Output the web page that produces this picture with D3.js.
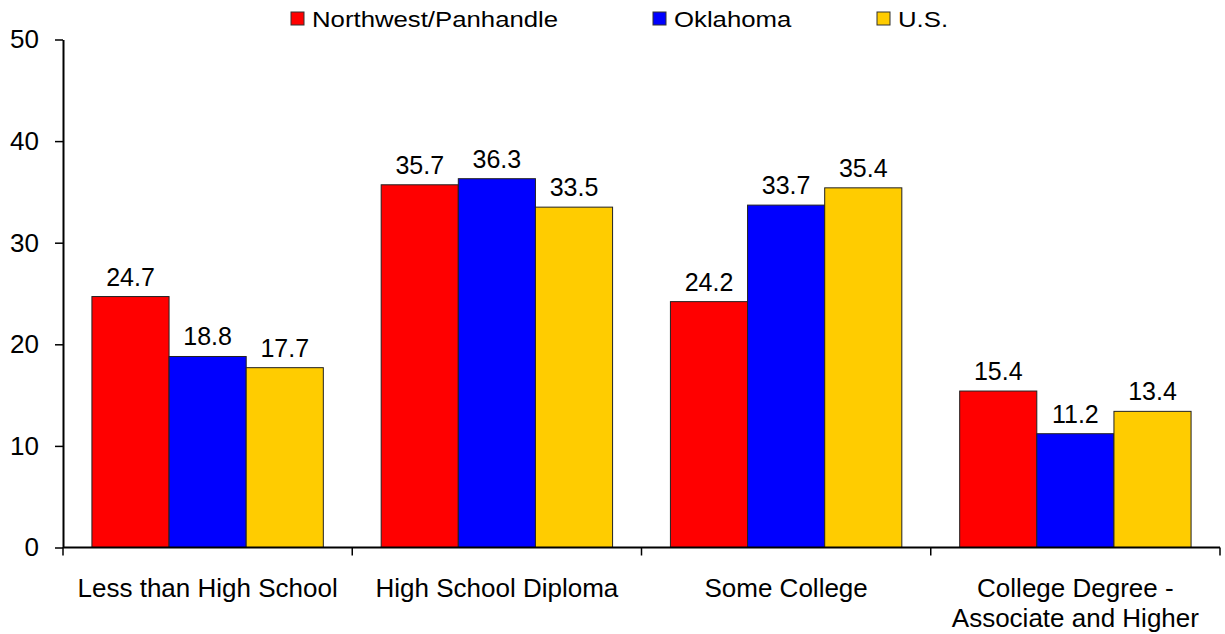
<!DOCTYPE html>
<html>
<head>
<meta charset="UTF-8">
<title>Educational Attainment</title>
<script src="https://cdnjs.cloudflare.com/ajax/libs/d3/7.9.0/d3.min.js"></script>
<style>
    body { margin: 0; background: #fff; }
    svg { display: block; font-family: "Liberation Sans", Arial, sans-serif; }
</style>
</head>
<body>
<div id="chart"></div>
<script>
    // data
    const categories = ["Less than High School", "High School Diploma", "Some College", "College Degree - Associate and Higher"];
    const categoryLines = [["Less than High School"], ["High School Diploma"], ["Some College"], ["College Degree -", "Associate and Higher"]];
    const seriesNames = ["Northwest/Panhandle", "Oklahoma", "U.S."];
    const northwest = [24.7, 35.7, 24.2, 15.4];
    const oklahoma = [18.8, 36.3, 33.7, 11.2];
    const us = [17.7, 33.5, 35.4, 13.4];
    const yTicks = [0, 10, 20, 30, 40, 50];

    const colors = ["#ff0000", "#0000ff", "#ffcc00"];
    const seriesValues = [northwest, oklahoma, us];

    const W = 1225, H = 634;
    const plotLeft = 63, plotRight = 1220, plotTop = 39.5, plotBottom = 547.5;

    const svg = d3.select("#chart").append("svg")
        .attr("width", W)
        .attr("height", H);

    // scales
    const x0 = d3.scaleBand().domain(categories).range([plotLeft, plotRight]).padding(0);
    const bw = x0.bandwidth();
    const x1 = d3.scaleBand().domain(seriesNames).range([bw * 0.1, bw * 0.9]).padding(0);
    const y = d3.scaleLinear().domain([0, 50]).range([plotBottom, plotTop]);

    // bars
    const groups = svg.append("g").selectAll("g")
        .data(categories)
        .join("g")
        .attr("transform", d => `translate(${x0(d)},0)`);

    const barData = (c, i) => seriesNames.map((s, k) => ({ s, k, v: seriesValues[k][i] }));

    groups.selectAll("rect")
        .data(barData)
        .join("rect")
        .attr("x", d => x1(d.s))
        .attr("y", d => y(d.v))
        .attr("width", x1.bandwidth())
        .attr("height", d => y(0) - y(d.v))
        .attr("fill", d => colors[d.k])
        .attr("stroke", "#222")
        .attr("stroke-width", 1);

    groups.selectAll("text.val")
        .data(barData)
        .join("text")
        .attr("class", "val")
        .attr("x", d => x1(d.s) + x1.bandwidth() / 2)
        .attr("y", d => y(d.v) - 11)
        .attr("text-anchor", "middle")
        .attr("font-size", 25)
        .text(d => d.v.toFixed(1));

    // y axis
    const yAxis = d3.axisLeft(y).tickValues(yTicks).tickSize(8).tickSizeOuter(0).tickPadding(16);
    const gy = svg.append("g")
        .attr("transform", `translate(${plotLeft},0)`)
        .call(yAxis);
    gy.select(".domain").attr("stroke", "#000").attr("stroke-width", 2);
    gy.selectAll(".tick line").attr("stroke", "#000").attr("stroke-width", 1.5);
    gy.selectAll(".tick text")
        .attr("font-size", 26)
        .attr("font-family", "Liberation Sans, Arial, sans-serif")
        .attr("fill", "#000");

    // x axis line + boundary ticks
    svg.append("line")
        .attr("x1", plotLeft).attr("x2", plotRight)
        .attr("y1", y(0)).attr("y2", y(0))
        .attr("stroke", "#000").attr("stroke-width", 2);

    const bounds = categories.map(c => x0(c)).concat([x0.range()[1]]);
    svg.append("g").selectAll("line")
        .data(bounds)
        .join("line")
        .attr("x1", d => d).attr("x2", d => d)
        .attr("y1", y(0)).attr("y2", y(0) + 8)
        .attr("stroke", "#000").attr("stroke-width", 1.5);

    // category labels
    svg.append("g").selectAll("text")
        .data(categories)
        .join("text")
        .attr("x", d => x0(d) + bw / 2)
        .attr("y", 597)
        .attr("text-anchor", "middle")
        .attr("font-size", 26)
        .each(function (d, i) {
            d3.select(this).selectAll("tspan")
                .data(categoryLines[i])
                .join("tspan")
                .attr("x", x0(d) + bw / 2)
                .attr("dy", (t, j) => j === 0 ? 0 : 30)
                .text(t => t);
        });

    // legend (text in the reference is a bit wider than Arial, stretch it)
    const legendX = [291, 653, 877];
    const legend = svg.append("g").selectAll("g")
        .data(seriesNames)
        .join("g")
        .attr("transform", (d, i) => `translate(${legendX[i]},12)`);
    legend.append("rect")
        .attr("width", 13).attr("height", 13)
        .attr("fill", (d, i) => colors[i])
        .attr("stroke", "#333").attr("stroke-width", 1);
    legend.append("text")
        .attr("x", 21).attr("y", 14.7)
        .attr("font-size", 22)
        .text(d => d)
        .each(function () {
            const len = this.getComputedTextLength();
            d3.select(this)
                .attr("textLength", len * 1.17)
                .attr("lengthAdjust", "spacingAndGlyphs");
        });
</script>
</body>
</html>
